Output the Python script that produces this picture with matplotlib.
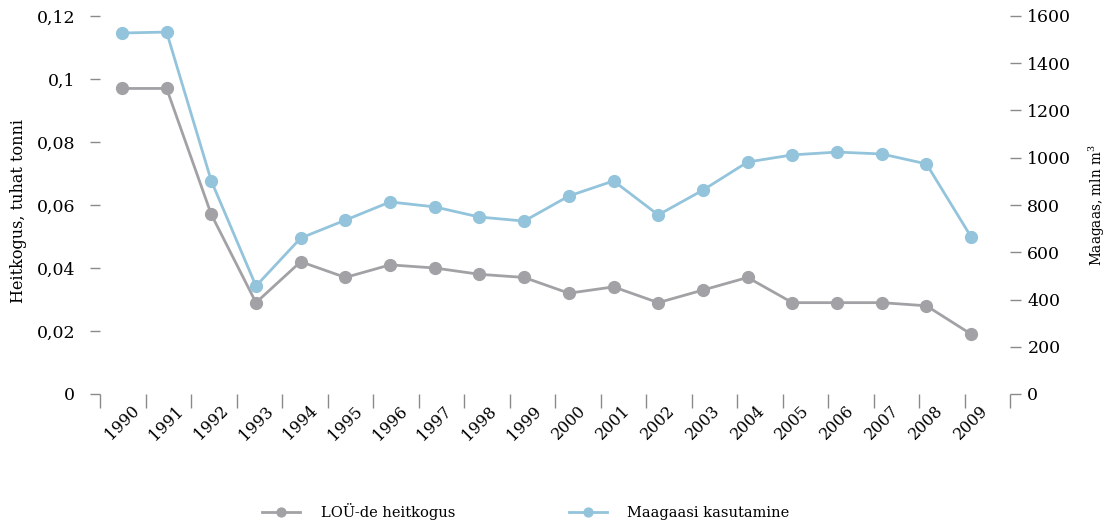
import matplotlib
matplotlib.use("Agg")
import matplotlib.pyplot as plt
import numpy as np

years = ["1990", "1991", "1992", "1993", "1994", "1995", "1996", "1997", "1998", "1999",
         "2000", "2001", "2002", "2003", "2004", "2005", "2006", "2007", "2008", "2009"]
emissions = [0.097, 0.097, 0.057, 0.029, 0.042, 0.037, 0.041, 0.040, 0.038, 0.037,
             0.032, 0.034, 0.029, 0.033, 0.037, 0.029, 0.029, 0.029, 0.028, 0.019]
gas_use = [1528, 1532, 902, 457, 660, 736, 813, 792, 749, 732,
           838, 902, 758, 863, 982, 1012, 1024, 1016, 974, 665]
left_ticks = [0, 0.02, 0.04, 0.06, 0.08, 0.10, 0.12]
left_ticklabels = ["0", "0,02", "0,04", "0,06", "0,08", "0,1", "0,12"]
right_ticks = [0, 200, 400, 600, 800, 1000, 1200, 1400, 1600]
left_label = "Heitkogus, tuhat tonni"
right_label = "Maagaas, mln m$^3$"
series_names = ["LOÜ-de heitkogus", "Maagaasi kasutamine"]

grey = "#a2a2a6"
blue = "#93c4dc"
tickc = "#8a8a8a"

plt.rcParams['font.family'] = ['DejaVu Serif']
plt.rcParams['mathtext.fontset'] = 'dejavuserif'

fig = plt.figure(figsize=(11.08, 5.24), dpi=100)
ax = fig.add_axes([100/1108, 130/524, 910/1108, 378/524])
ax2 = ax.twinx()

x = np.arange(len(years))
l1, = ax.plot(x, emissions, color=grey, lw=2, marker='o', ms=8.5, zorder=3,
              label=series_names[0])
l2, = ax2.plot(x, gas_use, color=blue, lw=2, marker='o', ms=8.5, zorder=3,
               label=series_names[1])

xmin, xmax = -0.49, 19.87
ax.set_xlim(xmin, xmax)
ax.set_ylim(0, 0.12)
ax2.set_ylim(0, 1600)

ax.set_xticks(np.linspace(xmin, xmax, 21))
ax.set_xticklabels([])
ax.set_xticks(x, minor=True)
ax.set_xticklabels(years, minor=True, rotation=45, ha='center', fontsize=11.5)
ax.tick_params(axis='x', which='major', length=10, color=tickc, width=1, direction='out')
ax.tick_params(axis='x', which='minor', length=0, pad=6)

ax.set_yticks(left_ticks)
ax.set_yticklabels(left_ticklabels, fontsize=12.5)
ax.tick_params(axis='y', length=7, color=tickc, width=1, pad=11)

ax2.set_yticks(right_ticks)
ax2.set_yticklabels([str(v) for v in right_ticks], fontsize=12.5)
ax2.tick_params(axis='y', length=8, color=tickc, width=1, pad=4.5)

for a in (ax, ax2):
    for s in a.spines.values():
        s.set_visible(False)

fig.text(19/1108, 1 - 211/524, left_label, rotation=90, ha='center', va='center', fontsize=11.5)
fig.text(1097/1108, 1 - 205/524, right_label, rotation=90, ha='center', va='center', fontsize=9.8)

fig.legend([l1, l2], series_names, loc='center', ncol=2,
           bbox_to_anchor=(526/1108, 1 - 512/524), frameon=False, fontsize=10.5,
           handlelength=2.6, handletextpad=1.4, columnspacing=7.8, markerscale=0.75)

fig.savefig("out.png", dpi=100)
